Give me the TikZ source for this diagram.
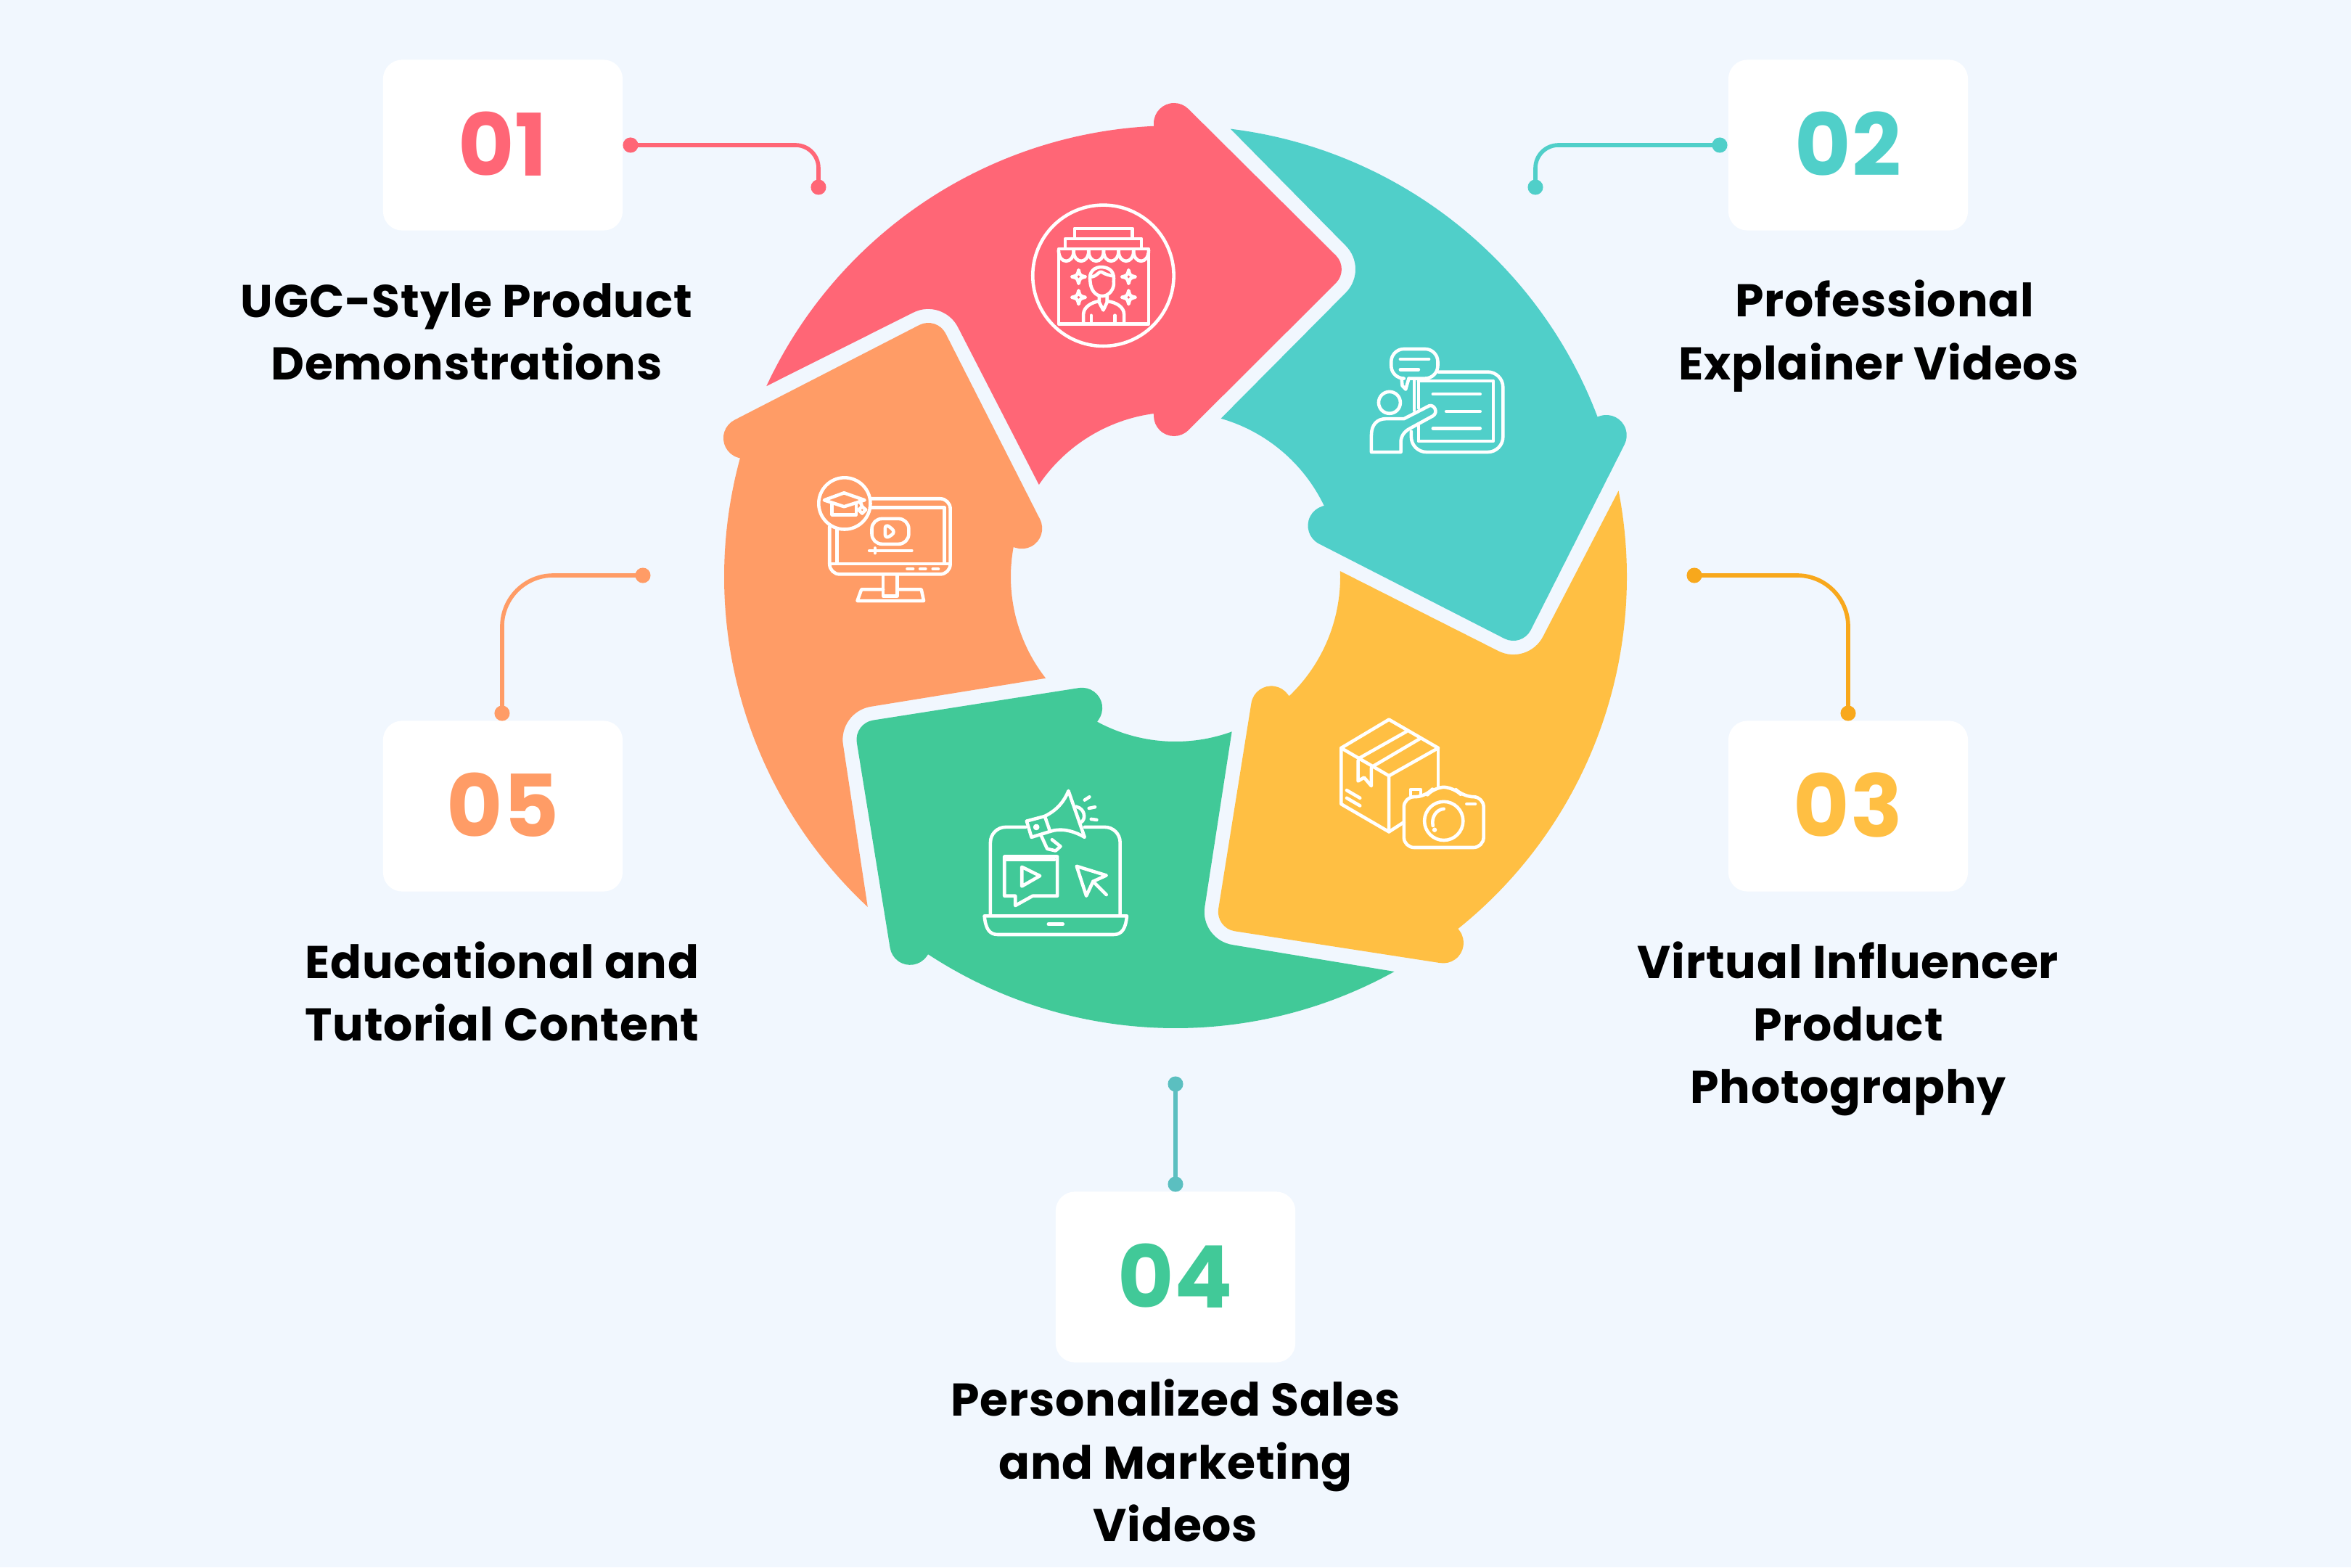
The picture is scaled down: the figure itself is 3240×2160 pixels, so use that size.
\documentclass[tikz,border=0pt]{standalone}
\usepackage{fontspec}
\newfontfamily\pop{Poppins}[LetterSpace=1.3]
\newfontfamily\popn{Poppins}[LetterSpace=1.0]
\definecolor{bgc}{HTML}{F1F7FE}
\definecolor{cred}{HTML}{FF6676}
\definecolor{cteal}{HTML}{50CFC9}
\definecolor{cyel}{HTML}{FFBF43}
\definecolor{cgrn}{HTML}{41C998}
\definecolor{corg}{HTML}{FF9C66}
\definecolor{lnyel}{HTML}{F8A81C}
\definecolor{lnfour}{HTML}{5BBFC0}
\tikzset{
  card/.style={fill=white,rounded corners=7.5pt,minimum width=93.9pt,minimum height=66.9pt,inner sep=0pt,font=\popn\bfseries\fontsize{33.8}{33.8}\selectfont},
  lab/.style={align=center,inner sep=0pt,text=black,font=\pop\bfseries\fontsize{18}{24.5}\selectfont},
  dotn/.style={circle,fill=#1,minimum size=6pt,inner sep=0pt},
  conn/.style={draw=#1,line width=1.6pt},
  ico/.style={draw=white,line width=1.3pt,line cap=round,line join=round,fill=none},
  icoscope/.style={x=0.003333cm,y=-0.003333cm},
}
\newcommand{\wheelseg}[2]{%
  \fill[#2,rotate=#1] (155:622) arc[start angle=155,end angle=92.76,radius=622]
   -- (-30,625) arc[start angle=180,end angle=45,radius=28]
   -- (221,443) arc[start angle=45,end angle=-45,radius=27]
   -- (17.8,202.2) arc[start angle=-45,end angle=-180,radius=28]
   -- (97.6:227) arc[start angle=97.6,end angle=146,radius=227]
   -- (-299.8,344) arc[start angle=27,end angle=117,radius=46] -- cycle;}
\newcommand{\sparkle}[3]{%
  \draw[ico] (#1,#2-#3) .. controls (#1+.2*#3,#2-.2*#3) .. (#1+#3,#2) .. controls (#1+.2*#3,#2+.2*#3) .. (#1,#2+#3) .. controls (#1-.2*#3,#2+.2*#3) .. (#1-#3,#2) .. controls (#1-.2*#3,#2-.2*#3) .. cycle;}
\newcommand{\cardnum}[1]{\raisebox{0.85pt}{#1}}
\begin{document}
\begin{tikzpicture}[x=0.01cm,y=0.01cm]
\useasboundingbox (-1620,-1365) rectangle (1620,795);
\fill[bgc] (-1620,-1365) rectangle (1620,795);
\wheelseg{0}{cred}
\wheelseg{-72}{cteal}
\wheelseg{-144}{cyel}
\wheelseg{-216}{cgrn}
\wheelseg{-288}{corg}
% image coordinates from here
\begin{scope}[shift={(-1620,795)},y=-0.01cm]
\node[card,text=cred] (c1) at (693,200) {\cardnum{01}};
\node[card,text=cteal] (c2) at (2547,200) {\cardnum{02}};
\node[card,text=cyel] (c3) at (2547,1111) {\cardnum{03}};
\node[card,text=cgrn] (c4) at (1620,1760) {\cardnum{04}};
\node[card,text=corg] (c5) at (693,1111) {\cardnum{05}};
\node[lab] (t1) at (643,457) {UGC-Style Product\\Demonstrations};
\node[lab] (t2) at (2589,463) {\hspace*{4.7pt}Professional\\Explainer Videos};
\node[lab] (t3) at (2547,1418) {Virtual Influencer\\Product\\Photography};
\node[lab] (t4) at (1620,2013) {Personalized Sales\\and Marketing\\Videos};
\node[lab] (t5) at (692,1366) {Educational and\\Tutorial Content};
\node[dotn=cred] (a1) at (869,200) {};
\node[dotn=cred] (b1) at (1128,258) {};
\node[dotn=cteal] (a2) at (2370,200) {};
\node[dotn=cteal] (b2) at (2116,258) {};
\node[dotn=lnyel] (a3) at (2335,793) {};
\node[dotn=lnyel] (b3) at (2547,983) {};
\node[dotn=lnfour] (a4) at (1620,1494) {};
\node[dotn=lnfour] (b4) at (1620,1632) {};
\node[dotn=corg] (a5) at (886,793) {};
\node[dotn=corg] (b5) at (692,983) {};
\draw[conn=cred,rounded corners=9pt] (a1.center) -| (b1.center);
\draw[conn=cteal,rounded corners=9pt] (a2.center) -| (b2.center);
\draw[conn=lnyel,rounded corners=20pt] (a3.center) -| (b3.center);
\draw[conn=lnfour] (a4.center) -- (b4.center);
\draw[conn=corg,rounded corners=20pt] (a5.center) -| (b5.center);
\end{scope}
% icon 1
\begin{scope}[shift={(-240,535)},icoscope]
\draw[ico] (422,360) circle[radius=292];
\draw[ico] (303,205) -- (303,165) -- (543,165) -- (543,205);
\draw[ico] (265,248) -- (265,207) -- (580,207) -- (580,248);
\draw[ico] (237,250) -- (610,250) -- (610,560) -- (237,560) -- cycle;
\foreach \xa in {237,299,361,423,485,547}
  \draw[ico] (\xa,255) .. controls (\xa,315) and (\xa+63,315) .. (\xa+63,255);
\draw[ico] (368,385) .. controls (360,345) and (385,322) .. (420,325) .. controls (450,328) and (470,345) .. (465,385) .. controls (470,415) and (445,445) .. (418,445) .. controls (390,445) and (370,420) .. (368,385);
\draw[ico] (375,365) .. controls (400,360) and (405,340) .. (415,345) .. controls (430,355) and (450,360) .. (465,362);
\draw[ico] (405,445) -- (405,470) -- (422,503) -- (438,470) -- (438,445);
\draw[ico] (340,555) -- (340,520) .. controls (340,490) and (375,470) .. (405,466);
\draw[ico] (438,466) .. controls (475,470) and (508,490) .. (508,520) -- (508,555);
\draw[ico] (372,525) -- (372,555);
\draw[ico] (470,525) -- (470,555);
\sparkle{320}{365}{28}
\sparkle{527}{365}{28}
\sparkle{320}{450}{28}
\sparkle{527}{450}{28}
\end{scope}
% icon 2
\begin{scope}[shift={(240,335)},icoscope]
\draw[ico,rounded corners=5pt] (215,185) -- (172,185) -- (172,63) -- (365,63) -- (365,185) -- (245,185);
\draw[ico] (215,185) -- (218,215) -- (232,230) -- (245,185);
\draw[ico] (210,105) -- (328,105);
\draw[ico] (210,148) -- (285,148);
\draw[ico,rounded corners=6pt] (368,158) -- (635,158) -- (635,490) -- (255,490) -- (255,405);
\draw[ico] (267,195) -- (267,318);
\draw[ico] (285,195) -- (595,195) -- (595,445) -- (285,445) -- (285,378);
\draw[ico] (285,195) -- (285,308);
\draw[ico] (345,250) -- (540,250);
\draw[ico] (400,322) -- (540,322);
\draw[ico] (345,392) -- (540,392);
\draw[ico] (165,285) circle[radius=45];
\draw[ico] (90,490) -- (90,420) .. controls (90,375) and (115,352) .. (150,352) -- (225,352) -- (330,298) .. controls (350,292) and (368,325) .. (345,340) -- (250,392) .. controls (225,405) and (212,425) .. (212,450) -- (212,490) -- cycle;
\end{scope}
% icon 3
\begin{scope}[shift={(200,-175)},icoscope]
\draw[ico] (283,65) -- (487,183) -- (283,298) -- (85,183) -- cycle;
\draw[ico] (85,183) -- (85,415) -- (283,530) -- (283,298);
\draw[ico] (487,183) -- (487,340);
\draw[ico] (283,530) -- (345,490);
\draw[ico] (160,225) -- (355,115);
\draw[ico] (218,258) -- (410,145);
\draw[ico] (155,235) -- (155,320) -- (180,305) -- (210,340) -- (210,265);
\draw[ico] (108,358) -- (163,390);
\draw[ico] (108,390) -- (163,422);
\draw[ico,rounded corners=4pt] (345,385) -- (435,385) -- (470,345) -- (550,345) -- (590,385) -- (675,385) -- (675,595) -- (345,595) -- cycle;
\draw[ico] (372,378) -- (372,355) -- (415,355) -- (415,380);
\draw[ico] (510,485) circle[radius=80];
\draw[ico] (510,435) .. controls (478,438) and (458,470) .. (465,505);
\draw[ico] (472,522) circle[radius=3];
\draw[ico] (605,415) -- (640,415);
\end{scope}
% icon 4
\begin{scope}[shift={(-280,-275)},icoscope]
\draw[ico,rounded corners=6pt] (220,210) -- (75,210) -- (75,572);
\draw[ico,rounded corners=6pt] (465,210) -- (612,210) -- (612,572);
\draw[ico] (50,578) -- (640,578) .. controls (635,630) and (620,655) .. (585,655) -- (105,655) .. controls (70,655) and (55,630) .. (50,578) -- cycle;
\draw[ico] (315,612) -- (375,612);
\draw[ico] (133,332) -- (352,332) -- (352,495) -- (250,495) -- (178,535) -- (178,495) -- (133,495) -- cycle;
\draw[ico] (143,345) -- (340,345);
\draw[ico] (205,375) -- (280,412) -- (205,455) -- cycle;
\draw[ico] (432,372) -- (555,410) -- (500,435) -- (472,495) -- cycle;
\draw[ico] (500,435) -- (555,490);
\draw[ico] (225,185) -- (300,165) -- (322,228) -- (245,252) -- cycle;
\draw[ico] (300,165) .. controls (350,140) and (380,105) .. (398,60) -- (465,252) .. controls (410,220) and (360,215) .. (322,228);
\draw[ico] (265,210) circle[radius=6];
\draw[ico] (285,245) -- (310,300) -- (345,308) -- (365,290) -- (330,262);
\draw[ico] (430,125) .. controls (470,135) and (470,180) .. (450,190);
\draw[ico] (465,98) -- (485,85);
\draw[ico] (483,132) -- (508,127);
\draw[ico] (492,177) -- (515,180);
\end{scope}
% icon 5
\begin{scope}[shift={(-520,155)},icoscope]
\draw[ico] (192,162) circle[radius=107];
\draw[ico] (190,118) -- (275,148) -- (190,175) -- (108,148) -- cycle;
\draw[ico] (140,165) -- (140,208) -- (240,208) -- (240,165);
\draw[ico] (255,150) -- (265,175);
\draw[ico] (265,175) -- (280,188) -- (265,203) -- (250,188) -- cycle;
\draw[ico,rounded corners=4pt] (300,142) -- (630,142) -- (630,455) -- (130,455) -- (130,258);
\draw[ico] (160,265) -- (160,412) -- (605,412) -- (605,178) -- (297,178);
\draw[ico] (130,412) -- (160,412);
\draw[ico] (605,412) -- (630,412);
\draw[ico,rounded corners=4pt] (305,225) -- (458,225) -- (458,330) -- (305,330) -- cycle;
\draw[ico,rounded corners=2pt] (360,245) -- (405,280) -- (360,310) -- cycle;
\draw[ico] (295,357) -- (470,357);
\draw[ico] (318,347) -- (318,367);
\draw[ico] (452,433) -- (475,433);
\draw[ico] (505,433) -- (527,433);
\draw[ico] (558,433) -- (580,433);
\draw[ico] (352,458) -- (352,545) -- (410,545) -- (410,458);
\draw[ico] (352,518) -- (262,518) -- (245,565) -- (520,565) -- (510,518) -- (410,518);
\end{scope}
\end{tikzpicture}
\end{document}
